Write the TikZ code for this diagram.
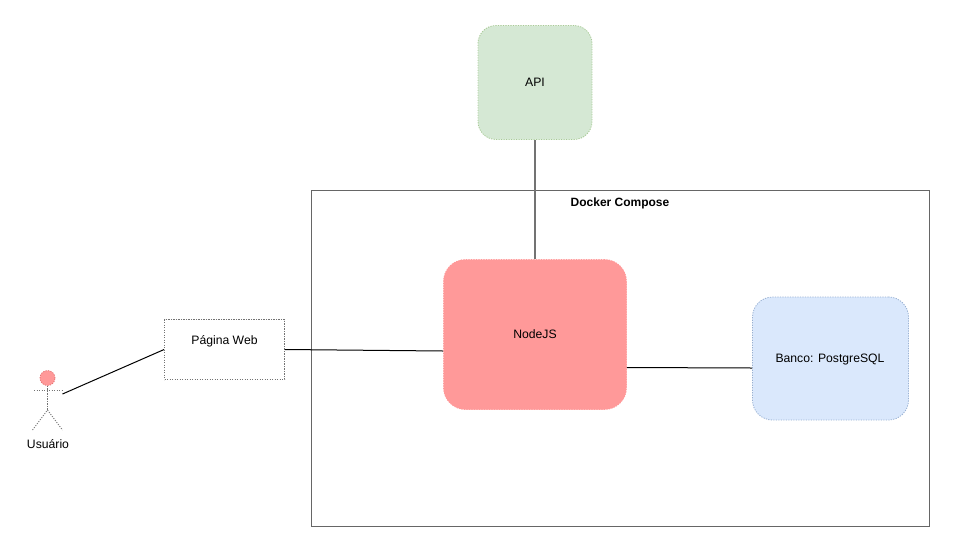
\documentclass[tikz,border=0pt]{standalone}
\usepackage{fontspec}
\setmainfont{Liberation Sans}
\definecolor{redfill}{HTML}{FF9999}
\definecolor{greenfill}{HTML}{D5E8D4}
\definecolor{greenline}{HTML}{82B366}
\definecolor{bluefill}{HTML}{DAE8FC}
\definecolor{blueline}{HTML}{6C8EBF}
\definecolor{redline}{HTML}{E57373}
\tikzset{
  px/.style={x=1pt,y=-1pt},
  dots/.style={dash pattern=on 1.2pt off 1.3pt,line width=0.8pt},
  lbl/.style={inner sep=0pt,font=\fontsize{12.2}{14}\selectfont,text=black},
  box/.style={rectangle,rounded corners=#1,dots,inner sep=0pt},
  link/.style={draw=black,line width=1pt},
  actorline/.style={draw=black!55,dots},
}
\begin{document}
\begin{tikzpicture}[px]
\useasboundingbox (0,0) rectangle (955,552);
\fill[white] (0,0) rectangle (955,552);
\node[draw=black!60,line width=1pt,minimum width=618pt,minimum height=336pt,inner sep=0pt] (docker) at (620.5,358.5) {};
\node[lbl,font=\fontsize{12}{14}\selectfont\bfseries] (dockerlabel) at (620,203) {Docker Compose};
\node[box=18pt,draw=greenline!70,fill=greenfill,minimum width=114pt,minimum height=114pt] (api) at (535,82.5) {};
\node[lbl] (apilabel) at (535,82.5) {API};
\node[box=22pt,draw=redfill,fill=redfill,minimum width=183pt,minimum height=150pt] (node) at (535,334.5) {};
\node[lbl] (nodelabel) at (535,334.5) {NodeJS};
\node[box=20pt,draw=blueline!70,fill=bluefill,minimum width=156pt,minimum height=123pt] (banco) at (830.5,358.5) {};
\node[lbl] (bancolabel) at (830,359) {Banco: PostgreSQL};
\node[draw=black!55,dots,minimum width=120pt,minimum height=60pt,inner sep=0pt] (pagina) at (224.5,349.5) {};
\node[lbl] (paginalabel) at (224.5,341) {Página Web};
% actor
\node[circle,draw=redline,dots,fill=redfill,minimum size=15pt,inner sep=0pt] (head) at (47.5,378) {};
\coordinate (hip) at (47.5,410);
\coordinate (armL) at (34,390.5);
\coordinate (armR) at (62,390.5);
\coordinate (footL) at (32.5,430);
\coordinate (footR) at (62.5,430);
\draw[actorline] (head.south) -- (hip);
\draw[actorline] (armL) -- (armR);
\draw[actorline] (footL) -- (hip) -- (footR);
\node[lbl] (usuario) at (48,444) {Usuário};
% connectors
\coordinate (actorend) at (62.5,394);
\draw[link] (actorend) -- (pagina.west);
\draw[link] (pagina.east) -- (node.west |- 0,351);
\draw[link] (node.east |- 0,367.5) -- (banco.west |- 0,368);
\draw[link,draw=black!55,line width=1.5pt] (api.south) -- (node.north);
\end{tikzpicture}
\end{document}
